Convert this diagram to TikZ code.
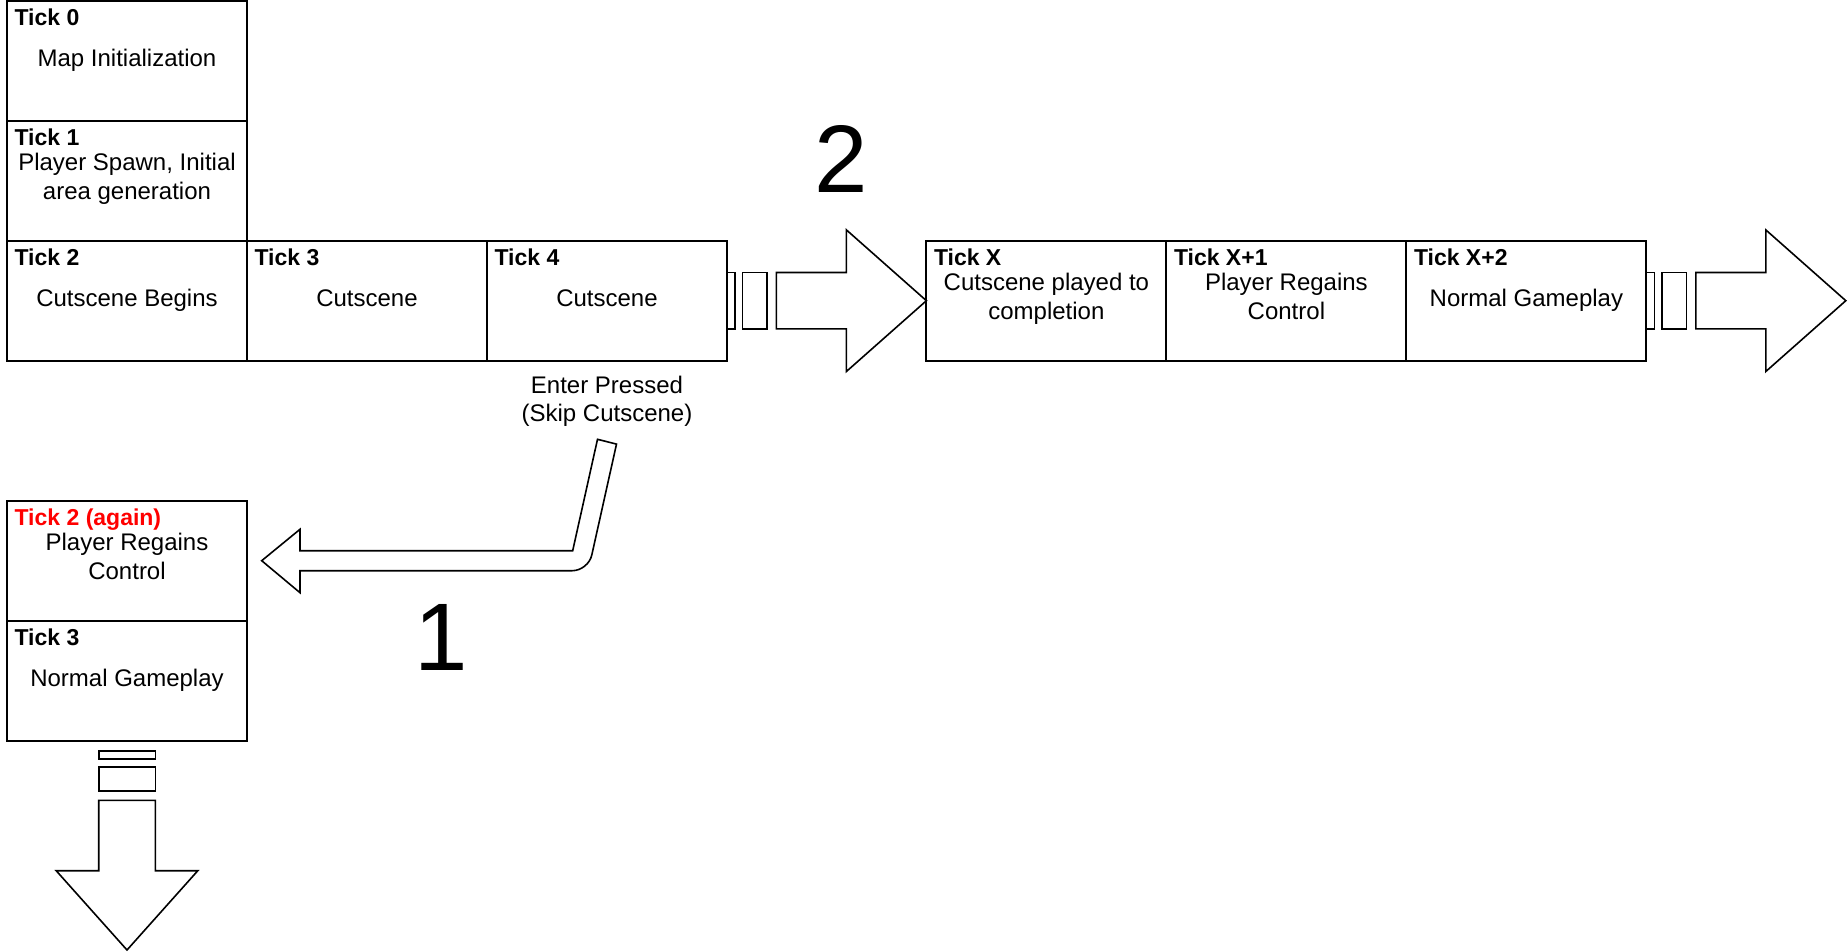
\documentclass[tikz,border=0pt]{standalone}
\usepackage{fontspec}
\setmainfont{Liberation Sans}
\usetikzlibrary{positioning}
\newcommand{\bodyfont}{\fontsize{12}{14.2}\selectfont}
\newcommand{\titlefont}{\fontsize{11.5}{14}\selectfont\bfseries}
\newcommand{\lowstrut}{\vrule width0pt height0pt depth2.6pt\relax}
\tikzset{
  tick/.style={rectangle, draw, line width=1pt, minimum width=120pt, minimum height=60pt,
               inner sep=0pt, outer sep=0pt, align=center, font=\bodyfont,
               execute at begin node=\strut, execute at end node=\lowstrut},
  ticktitle/.style={anchor=base west, inner sep=0pt, xshift=3.6pt, yshift=-12.6pt, font=\titlefont},
  note/.style={align=center, inner sep=0pt, font=\bodyfont,
               execute at begin node=\strut, execute at end node=\strut},
  pipe/.style={draw, line width=0.8pt, fill=white, line join=miter},
  bignum/.style={anchor=base, inner sep=0pt, font=\fontsize{48}{58}\selectfont},
}
\begin{document}
\begin{tikzpicture}[x=1pt,y=1pt]
\useasboundingbox (0,0) rectangle (924,-476);
%Nodes
\node[tick, label={[ticktitle]north west:Tick 0}] (tick0) at (63.5,-30.35) {Map Initialization};
\node[tick, label={[ticktitle]north west:Tick 1}] (tick1) [below=0pt of tick0] {Player Spawn, Initial\\area generation};
\node[tick, label={[ticktitle]north west:Tick 2}] (tick2) [below=0pt of tick1] {Cutscene Begins};
\node[tick, label={[ticktitle]north west:Tick 3}] (tick3) [right=0pt of tick2] {Cutscene};
\node[tick, label={[ticktitle]north west:Tick 4}] (tick4) [right=0pt of tick3] {Cutscene};
\node[tick, label={[ticktitle]north west:Tick X}] (tickx) [right=99.7pt of tick4] {Cutscene played to\\completion};
\node[tick, label={[ticktitle]north west:Tick X+1}] (tickx1) [right=0pt of tickx] {Player Regains\\Control};
\node[tick, label={[ticktitle]north west:Tick X+2}] (tickx2) [right=0pt of tickx1] {Normal Gameplay};
\node[tick, label={[ticktitle, text=red]north west:Tick 2 (again)}] (again) [below=70pt of tick2] {Player Regains\\Control};
\node[tick, label={[ticktitle]north west:Tick 3}] (again3) [below=0pt of again] {Normal Gameplay};
\node[note] (skiptext) [below=7.3pt of tick4] {Enter Pressed\\(Skip Cutscene)};
\node[bignum] (two) at ([shift={(57.25,54)}]tick4.east) {2};
\node[bignum] (one) at ([shift={(97.3,-55)}]again.east) {1};

\coordinate (skip) at ([yshift=-40.5pt]tick4.south);
\coordinate (end) at ([xshift=99.7pt]tickx2.east);
\coordinate (down) at ([yshift=-104.65pt]again3.south);

%Lines
% 2: cutscene keeps playing
\draw[pipe] ([yshift=14.1pt]tick4.east) rectangle ++(4,-28.2);
\draw[pipe] ([shift={(7.7,14.1)}]tick4.east) rectangle ++(12.3,-28.2);
\draw[pipe] ([shift={(24.7,14.1)}]tick4.east) -- ++(35,0) -- ++(0,21.3) -- (tickx.west)
  -- ++(-40,-35.4) -- ++(0,21.3) -- ++(-35,0) -- cycle;
\draw[pipe] ([yshift=14.1pt]tickx2.east) rectangle ++(4,-28.2);
\draw[pipe] ([shift={(7.7,14.1)}]tickx2.east) rectangle ++(12.3,-28.2);
\draw[pipe] ([shift={(24.7,14.1)}]tickx2.east) -- ++(35,0) -- ++(0,21.3) -- (end)
  -- ++(-40,-35.4) -- ++(0,21.3) -- ++(-35,0) -- cycle;

% 1: skipped
\draw[pipe] ([shift={(-4.75,1.2)}]skip) -- ([shift={(4.75,-1.2)}]skip)
  [rounded corners=8pt] -- ([shift={(-9.35,-64.5)}]skip) [sharp corners]
  -- ([shift={(26.5,-5)}]again.east) -- ([shift={(26.5,-16)}]again.east)
  -- ([xshift=7.35pt]again.east) -- ([shift={(26.5,15.7)}]again.east)
  -- ([shift={(26.5,5)}]again.east) -- ([shift={(-17.15,-54.5)}]skip) -- cycle;

\draw[pipe] ([shift={(-14.15,-5)}]again3.south) rectangle ++(28.3,-4.15);
\draw[pipe] ([shift={(-14.15,-13)}]again3.south) rectangle ++(28.3,-12);
\draw[pipe] ([shift={(-14.15,-29.8)}]again3.south) -- ++(28.3,0) -- ++(0,-35.2) -- ++(21.25,0)
  -- (down) -- ++(-35.4,39.65) -- ++(21.25,0) -- cycle;
\end{tikzpicture}
\end{document}
